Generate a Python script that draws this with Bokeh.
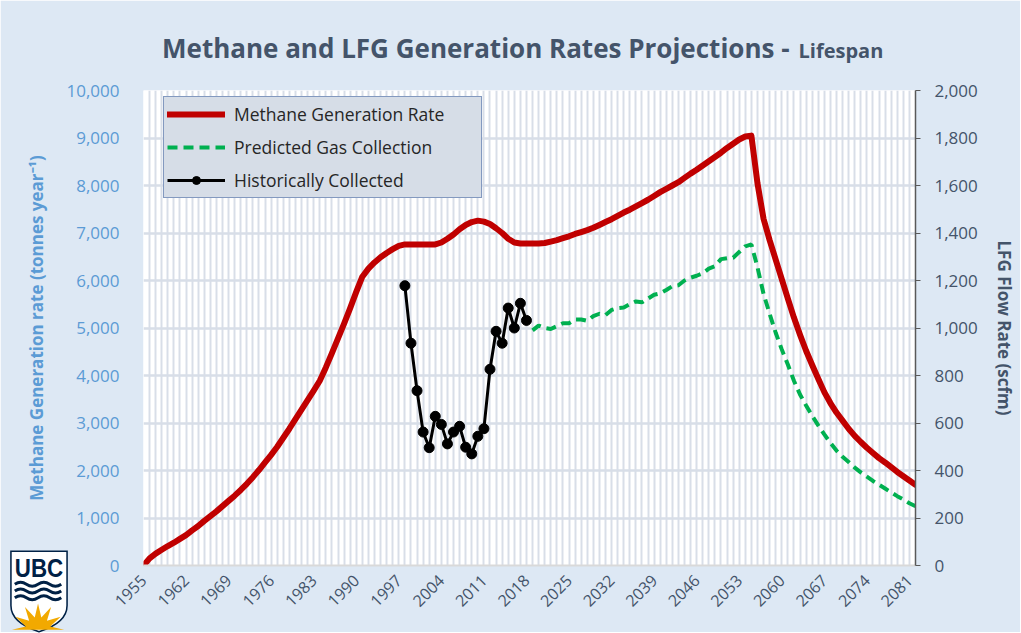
import math
from bokeh.plotting import figure
from bokeh.models import (Range1d, LinearAxis, FixedTicker, NumeralTickFormatter,
                          Legend, LegendItem, Div, GridBox)
from bokeh.embed import file_html
from bokeh.resources import INLINE

# ---------------- data ----------------
years = list(range(1955, 2083))
methane_generation = [  # tonnes / year
    0, 150, 250, 330, 410, 480, 560, 640, 740, 830,
    940, 1040, 1140, 1250, 1360, 1470, 1590, 1720, 1860, 2010,
    2170, 2330, 2500, 2690, 2880, 3080, 3280, 3480, 3680, 3890,
    4170, 4470, 4780, 5090, 5420, 5760, 6080, 6250, 6380, 6490,
    6580, 6660, 6730, 6760, 6760, 6760, 6760, 6760, 6760, 6800,
    6880, 6970, 7080, 7170, 7230, 7260, 7240, 7190, 7100, 7000,
    6880, 6800, 6780, 6780, 6780, 6780, 6790, 6820, 6850, 6890,
    6930, 6980, 7020, 7060, 7110, 7170, 7230, 7290, 7360, 7430,
    7490, 7560, 7630, 7700, 7780, 7860, 7930, 8000, 8070, 8160,
    8250, 8330, 8420, 8510, 8600, 8690, 8790, 8880, 8970, 9030,
    9050, 8050, 7300, 6850, 6440, 6030, 5620, 5220, 4860, 4520,
    4220, 3930, 3650, 3420, 3220, 3050, 2880, 2730, 2600, 2480,
    2370, 2260, 2170, 2070, 1970, 1880, 1790, 1700,
]

hist_years = list(range(1998, 2019))
hist_collected = [  # scfm
    1178, 936, 736, 562, 496, 628, 594, 512, 562, 586,
    498, 470, 544, 576, 826, 986, 936, 1084, 1000, 1104, 1032,
]

pred_years = list(range(2019, 2083))
pred_collection = [  # scfm
    990, 1010, 1000, 996, 1008, 1020, 1020, 1036, 1036, 1030,
    1050, 1060, 1054, 1076, 1084, 1086, 1100, 1112, 1108, 1124,
    1140, 1146, 1160, 1176, 1180, 1200, 1212, 1220, 1230, 1250,
    1260, 1290, 1294, 1296, 1320, 1344, 1352,
    1256, 1144, 1060, 980, 910, 846, 778, 720, 674, 630,
    590, 552, 516, 484, 458, 436, 412, 392, 374, 356,
    340, 324, 308, 292, 278, 262, 250,
]

left_ticks = list(range(0, 10001, 1000))
right_ticks = list(range(0, 2001, 200))
x_label_years = list(range(1955, 2082, 7))

title_main = "Methane and LFG Generation Rates Projections -"
title_sub = "Lifespan"

# ---------------- styling ----------------
BG = "#DDE8F4"
GRID = "#D8DEE8"
SLATE = "#44546A"
BLUE = "#5B9BD5"
RED = "#C00000"
GREEN = "#00B050"
FONT = "Open Sans"

FW, FH = 772, 475
ML, MR, MT, MB = 143, 105, 90, 67
TOTAL_W, TOTAL_H = ML + FW + MR, MT + FH + MB

p = figure(frame_width=FW, frame_height=FH,
           x_range=Range1d(1955, 2082), y_range=Range1d(0, 10000),
           output_backend="svg", toolbar_location=None,
           min_border_left=ML, min_border_right=MR,
           min_border_top=MT, min_border_bottom=MB,
           background_fill_color="white", border_fill_color=BG,
           outline_line_color=None)
p.extra_y_ranges = {"right": Range1d(0, 2000)}

# grids
p.xgrid.ticker = FixedTicker(ticks=years)
p.xgrid.grid_line_color = GRID
p.xgrid.grid_line_width = 2
p.ygrid.ticker = FixedTicker(ticks=left_ticks)
p.ygrid.grid_line_color = GRID
p.ygrid.grid_line_width = 2.5

# x axis
xa = p.xaxis[0]
xa.ticker = FixedTicker(ticks=x_label_years)
xa.major_label_orientation = math.pi / 4
xa.major_label_text_font = FONT
xa.major_label_text_font_size = "16px"
xa.major_label_text_color = SLATE
xa.axis_line_color = "#D9D9D9"
xa.axis_line_width = 2
xa.major_tick_line_color = None
xa.minor_tick_line_color = None
xa.major_label_standoff = 6

# left axis
ya = p.yaxis[0]
ya.ticker = FixedTicker(ticks=left_ticks)
ya.formatter = NumeralTickFormatter(format="0,0")
ya.major_label_text_font = FONT
ya.major_label_text_font_size = "17px"
ya.major_label_text_color = BLUE
ya.axis_line_color = None
ya.major_tick_line_color = None
ya.minor_tick_line_color = None
ya.major_label_standoff = 18
ya.axis_label = "Methane Generation rate (tonnes year\u207b\u00b9)"
ya.axis_label_text_font = FONT
ya.axis_label_text_font_size = "17px"
ya.axis_label_text_font_style = "bold"
ya.axis_label_text_color = BLUE
ya.axis_label_standoff = 15

# right axis
ra = LinearAxis(y_range_name="right", ticker=FixedTicker(ticks=right_ticks),
                formatter=NumeralTickFormatter(format="0,0"))
ra.major_label_text_font = FONT
ra.major_label_text_font_size = "17px"
ra.major_label_text_color = SLATE
ra.axis_line_color = "#595959"
ra.axis_line_width = 1.5
ra.major_tick_line_color = "#595959"
ra.major_tick_out = 5
ra.major_tick_in = 0
ra.minor_tick_line_color = None
ra.major_label_standoff = 14
ra.axis_label = "LFG Flow Rate (scfm)"
ra.axis_label_text_font = FONT
ra.axis_label_text_font_size = "17px"
ra.axis_label_text_font_style = "bold"
ra.axis_label_text_color = SLATE
ra.axis_label_standoff = 12
p.add_layout(ra, "right")

# ---------------- series ----------------
r_red = p.line(years, methane_generation, line_color=RED, line_width=6,
               line_join="round", line_cap="round")
r_green = p.line(pred_years, pred_collection, y_range_name="right",
                 line_color=GREEN, line_width=4, line_dash="10 6")
r_black = p.line(hist_years, hist_collected, y_range_name="right",
                 line_color="black", line_width=3)
r_dots = p.scatter(hist_years, hist_collected, y_range_name="right",
                   size=10, fill_color="black", line_color="black")

legend = Legend(items=[
    LegendItem(label="Methane Generation Rate", renderers=[r_red]),
    LegendItem(label="Predicted Gas Collection", renderers=[r_green]),
    LegendItem(label="Historically Collected", renderers=[r_black, r_dots]),
], location=(20, 367))
legend.margin = 0
legend.padding = 3
legend.spacing = 5
legend.glyph_width = 58
legend.glyph_height = 20
legend.label_height = 28
legend.label_width = 244
legend.label_standoff = 9
legend.label_text_font = FONT
legend.label_text_font_size = "17.5px"
legend.label_text_color = "#262626"
legend.background_fill_color = "#D6DDE7"
legend.background_fill_alpha = 1
legend.border_line_color = "#2F5597"
legend.border_line_width = 1.5
p.add_layout(legend)

# ---------------- title and UBC emblem, overlaid as HTML ----------------
rays = []
for k in range(13):
    ang = math.pi * k / 12
    rad = 27 if k % 2 == 0 else 13
    rays.append(f"{30 + rad * math.cos(ang):.1f},{83 - rad * math.sin(ang):.1f}")
rays_pts = "30,83 " + " ".join(rays)

waves = ""
for wy in (36, 43, 50):
    waves += (f'<path d="M6 {wy} q6 -4 12 0 t12 0 t12 0 t12 0" fill="none" '
              f'stroke="#002145" stroke-width="3"/>')

overlay_html = f"""
<div style="position:relative;width:{TOTAL_W}px;height:{TOTAL_H}px;pointer-events:none;">
  <div style="position:absolute;left:157px;top:30px;white-space:nowrap;line-height:1;
              font-family:'Open Sans';font-weight:bold;color:{SLATE};font-size:26px;">
    <span>{title_main}</span><span style="font-size:20px;margin-left:9px;">{title_sub}</span>
  </div>
  <svg width="60" height="86" viewBox="0 0 62 86"
       style="position:absolute;left:4px;top:543px;">
    <path d="M2 2 H60 V58 Q60 76 31 85 Q2 76 2 58 Z" fill="white"
          stroke="#002145" stroke-width="1.6"/>
    <text x="31" y="29" text-anchor="middle" font-family="'Liberation Serif', serif"
          font-weight="bold" font-size="26" fill="#002145"
          textLength="50" lengthAdjust="spacingAndGlyphs">UBC</text>
    {waves}
    <polygon points="{rays_pts}" fill="#F2A900"/>
  </svg>
</div>
"""
overlay = Div(text=overlay_html, width=TOTAL_W, height=TOTAL_H)

layout = GridBox(children=[(p, 0, 0), (overlay, 0, 0)])

open("out.html", "w").write(file_html(layout, INLINE))
